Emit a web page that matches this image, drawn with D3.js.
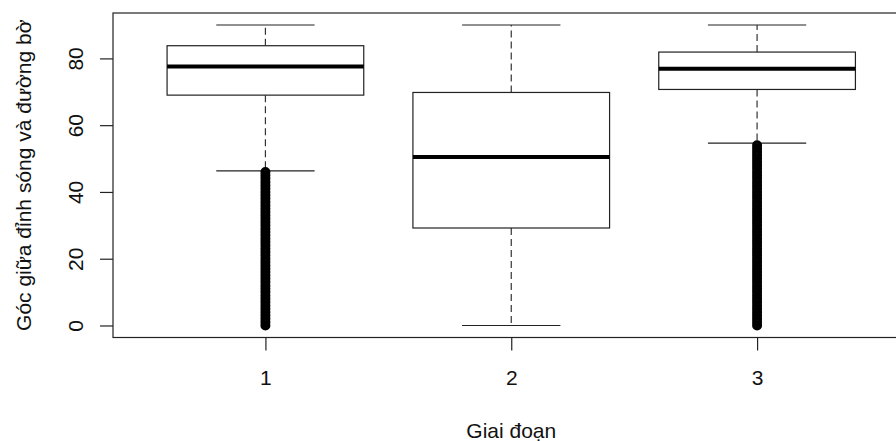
<!DOCTYPE html>
<html>
<head>
<meta charset="utf-8">
<script src="https://cdn.jsdelivr.net/npm/d3@7"></script>
<style>
  body { margin: 0; background: #fff; }
  text { font-family: "Liberation Sans", Arial, sans-serif; fill: #111; }
</style>
</head>
<body>
<div id="chart"></div>
<script>
const stages = ["1", "2", "3"];
const q1 = [69.0, 29.2, 70.7];
const medians = [77.6, 50.5, 76.9];
const q3 = [83.8, 69.8, 81.9];
const whiskerLow = [46.3, 0, 54.6];
const whiskerHigh = [90, 90, 90];
const outliers1 = [0, 1, 2, 3, 4, 5, 6, 7, 8, 9, 10, 11, 12, 13, 14, 15, 16, 17, 18, 19, 20, 21, 22, 23,
    24, 25, 26, 27, 28, 29, 30, 31, 32, 33, 34, 35, 36, 37, 38, 39, 40, 41, 42, 43, 44, 45, 46];
const outliers2 = [];
const outliers3 = [0, 1, 2, 3, 4, 5, 6, 7, 8, 9, 10, 11, 12, 13, 14, 15, 16, 17, 18, 19, 20, 21, 22, 23,
    24, 25, 26, 27, 28, 29, 30, 31, 32, 33, 34, 35, 36, 37, 38, 39, 40, 41, 42, 43, 44, 45, 46, 47, 48,
    49, 50, 51, 52, 53, 54];
const yTicks = [0, 20, 40, 60, 80];
const yTitle = "Góc giữa đỉnh sóng và đường bờ";
const xTitle = "Giai đoạn";

const W = 896, H = 441;
const plot = { left: 113, top: 13, bottom: 337.5, right: 909.5 };
const fontSize = 21;

const svg = d3.select("#chart")
    .append("svg")
    .attr("width", W)
    .attr("height", H);

// R style: 4% padding around [0.5, 3.5] and [0, 90]
const x = d3.scaleLinear().domain([0.38, 3.62]).range([plot.left, plot.right]);
const y = d3.scaleLinear().domain([-3.6, 93.6]).range([plot.bottom, plot.top]);

const boxes = stages.map((s, i) => ({
    pos: i + 1,
    label: s,
    q1: q1[i],
    med: medians[i],
    q3: q3[i],
    lo: whiskerLow[i],
    hi: whiskerHigh[i],
    out: [outliers1, outliers2, outliers3][i]
}));

const boxW = 0.8, stapleW = 0.4;

const g = svg.append("g");

// whiskers
g.selectAll(".whisker-up")
    .data(boxes)
    .enter()
    .append("line")
    .attr("x1", d => x(d.pos)).attr("x2", d => x(d.pos))
    .attr("y1", d => y(d.q3)).attr("y2", d => y(d.hi))
    .attr("stroke", "#333").attr("stroke-width", 1.2)
    .attr("stroke-dasharray", "7,4");

g.selectAll(".whisker-down")
    .data(boxes)
    .enter()
    .append("line")
    .attr("x1", d => x(d.pos)).attr("x2", d => x(d.pos))
    .attr("y1", d => y(d.q1)).attr("y2", d => y(d.lo))
    .attr("stroke", "#333").attr("stroke-width", 1.2)
    .attr("stroke-dasharray", "7,4");

// staples
["hi", "lo"].forEach(k => {
    g.selectAll(".staple-" + k)
        .data(boxes)
        .enter()
        .append("line")
        .attr("x1", d => x(d.pos - stapleW / 2)).attr("x2", d => x(d.pos + stapleW / 2))
        .attr("y1", d => y(d[k])).attr("y2", d => y(d[k]))
        .attr("stroke", "#222").attr("stroke-width", 1.2);
});

// boxes
g.selectAll(".box")
    .data(boxes)
    .enter()
    .append("rect")
    .attr("x", d => x(d.pos - boxW / 2))
    .attr("width", d => x(d.pos + boxW / 2) - x(d.pos - boxW / 2))
    .attr("y", d => y(d.q3))
    .attr("height", d => y(d.q1) - y(d.q3))
    .attr("fill", "#fff")
    .attr("stroke", "#222").attr("stroke-width", 1.2);

// medians
g.selectAll(".median")
    .data(boxes)
    .enter()
    .append("line")
    .attr("x1", d => x(d.pos - boxW / 2)).attr("x2", d => x(d.pos + boxW / 2))
    .attr("y1", d => y(d.med)).attr("y2", d => y(d.med))
    .attr("stroke", "#000").attr("stroke-width", 4);

// outliers (open circles, dense enough to merge)
boxes.forEach(b => {
    g.selectAll(null)
        .data(b.out)
        .enter()
        .append("circle")
        .attr("cx", x(b.pos))
        .attr("cy", v => y(v))
        .attr("r", 3.3)
        .attr("fill", "none")
        .attr("stroke", "#000")
        .attr("stroke-width", 3.4);
});

// frame
svg.append("rect")
    .attr("x", plot.left).attr("y", plot.top)
    .attr("width", plot.right - plot.left).attr("height", plot.bottom - plot.top)
    .attr("fill", "none")
    .attr("stroke", "#222").attr("stroke-width", 1.2);

// y axis
const yAxis = svg.append("g")
    .attr("transform", `translate(${plot.left}, 0)`)
    .call(d3.axisLeft(y).tickValues(yTicks).tickSize(13).tickFormat(d3.format("d")));
yAxis.select(".domain").remove();
yAxis.selectAll(".tick line").attr("stroke", "#222").attr("stroke-width", 1.2);
yAxis.selectAll(".tick text")
    .attr("transform", "rotate(-90)")
    .attr("x", 0)
    .attr("y", -30)
    .attr("dy", null)
    .attr("text-anchor", "middle")
    .style("font-size", fontSize + "px")
    .style("font-family", "Liberation Sans, Arial, sans-serif")
    .attr("fill", "#111");

// x axis
const xAxis = svg.append("g")
    .attr("transform", `translate(0, ${plot.bottom})`)
    .call(d3.axisBottom(x).tickValues(boxes.map(d => d.pos)).tickSize(13)
        .tickFormat((d, i) => stages[i]));
xAxis.select(".domain").remove();
xAxis.selectAll(".tick line").attr("stroke", "#222").attr("stroke-width", 1.2);
xAxis.selectAll(".tick text")
    .attr("y", 47.5)
    .attr("dy", null)
    .style("font-size", fontSize + "px")
    .style("font-family", "Liberation Sans, Arial, sans-serif")
    .attr("fill", "#111");

// axis titles (centred on the full plot region, which runs past the page edge)
svg.append("text")
    .attr("x", (plot.left + plot.right) / 2)
    .attr("y", 438)
    .attr("text-anchor", "middle")
    .style("font-size", fontSize + "px")
    .text(xTitle);

svg.append("text")
    .attr("transform", `translate(31, ${(plot.top + plot.bottom) / 2}) rotate(-90)`)
    .attr("text-anchor", "middle")
    .style("font-size", fontSize + "px")
    .text(yTitle);
</script>
</body>
</html>
